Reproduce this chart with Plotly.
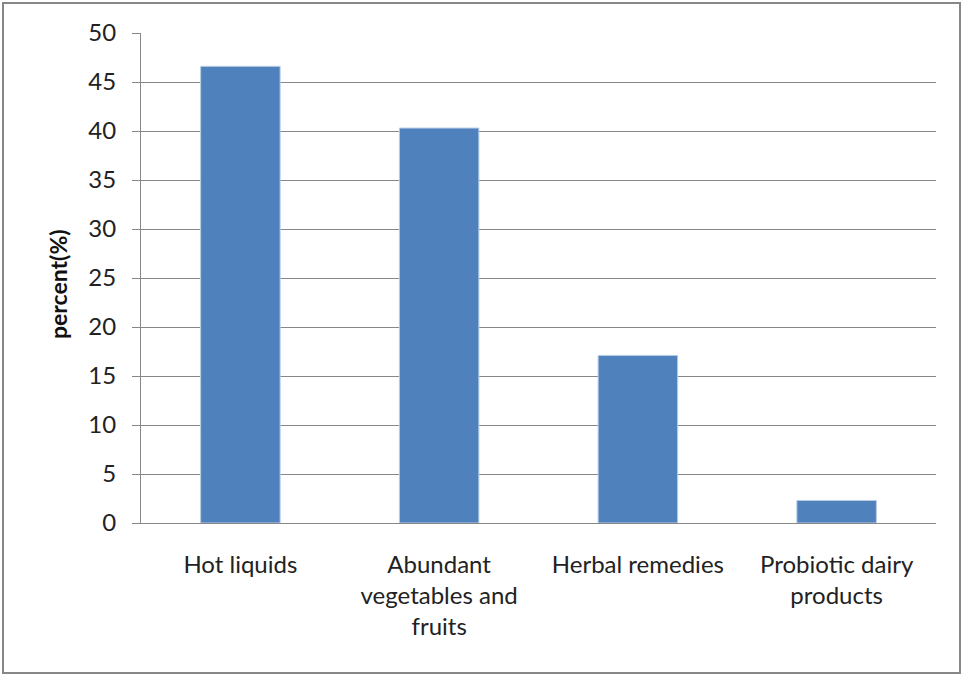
import plotly.graph_objects as go

categories = ["Hot liquids", "Abundant<br>vegetables and<br>fruits", "Herbal remedies", "Probiotic dairy<br>products"]
values = [46.6, 40.3, 17.1, 2.3]
y_ticks = [0, 5, 10, 15, 20, 25, 30, 35, 40, 45, 50]
y_title = "percent(%)"

GRID = "#878787"
FONT = "Lato"

fig = go.Figure(go.Bar(
    x=categories, y=values,
    marker=dict(color="#4F81BD", line=dict(color="#B9CDE5", width=1)),
    width=0.4,
))

fig.update_layout(
    width=964, height=675,
    margin=dict(l=141, r=28, t=33, b=152),
    paper_bgcolor="white", plot_bgcolor="white",
    showlegend=False,
    font=dict(family=FONT, color="#222222"),
    xaxis=dict(
        showline=True, linecolor=GRID, linewidth=1,
        ticks="", tickfont=dict(size=24, family=FONT, color="#222222"),
        ticklabelstandoff=20,
        showgrid=False,
    ),
    yaxis=dict(
        range=[0, 50], tickvals=y_ticks,
        showline=True, linecolor=GRID, linewidth=1,
        showgrid=True, gridcolor=GRID, gridwidth=1,
        ticks="outside", ticklen=8, tickcolor=GRID, tickwidth=1,
        tickfont=dict(size=24, family=FONT, color="#222222"),
        ticklabelstandoff=11,
        zeroline=False,
    ),
    annotations=[dict(
        text="<b>" + y_title + "</b>", xref="paper", yref="paper",
        x=(58 - 141) / 795, y=(523 - 284) / 490,
        xanchor="center", yanchor="middle", textangle=-90, showarrow=False,
        font=dict(size=23, family=FONT, color="#111111"),
    )],
    shapes=[dict(
        type="rect", xref="paper", yref="paper",
        x0=(3 - 141) / 795, x1=(960 - 141) / 795,
        y0=(523 - 673) / 490, y1=(523 - 3) / 490,
        line=dict(color="#878787", width=2), fillcolor="rgba(0,0,0,0)", layer="below",
    )],
)

fig.write_html("out.html", config={"displayModeBar": False},
               post_script="document.body.style.margin='0';document.body.style.padding='0';")
